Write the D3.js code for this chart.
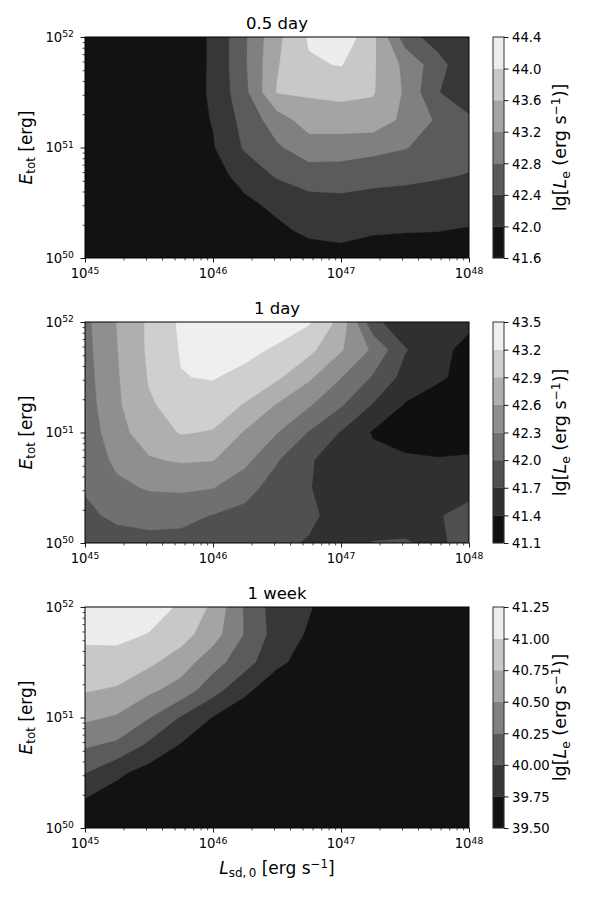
<!DOCTYPE html>
<html>
<head>
<meta charset="utf-8">
<script src="https://cdn.jsdelivr.net/npm/d3@7"></script>
<style>
body { margin: 0; background: #fff; }
text { font-family: "DejaVu Sans", sans-serif; fill: #000; }
</style>
</head>
<body>
<svg id="chart" width="600" height="900"></svg>
<script>
// grid of the model runs (log10 values), rows from top (E=1e52) to bottom (E=1e50)
var lgLsd = [45, 45.25, 45.5, 45.75, 46, 46.25, 46.5, 46.75, 47, 47.25, 47.5, 47.75, 48];
var lgEtot = [52, 51.75, 51.5, 51.25, 51, 50.75, 50.5, 50.25, 50];

var xTicks = [45, 46, 47, 48];
var yTicks = [50, 51, 52];
var titles = ["0.5 day", "1 day", "1 week"];

var levelsHalfDay = [41.6, 42.0, 42.4, 42.8, 43.2, 43.6, 44.0, 44.4];
var levelsOneDay = [41.1, 41.4, 41.7, 42.0, 42.3, 42.6, 42.9, 43.2, 43.5];
var levelsOneWeek = [39.5, 39.75, 40.0, 40.25, 40.5, 40.75, 41.0, 41.25];

// lg L_e at each grid point
var lgLeHalfDay = [
	[41.7, 41.72, 41.75, 41.8, 42.05, 42.75, 43.5, 44.05, 44.3, 43.7, 42.6, 42.2, 42.15],
	[41.7, 41.72, 41.75, 41.8, 42.05, 42.75, 43.57, 43.95, 44.02, 43.65, 43.1, 42.58, 42.05],
	[41.7, 41.72, 41.75, 41.82, 42.05, 42.7, 43.62, 43.65, 43.68, 43.63, 43.15, 42.42, 42.2],
	[41.7, 41.72, 41.75, 41.82, 42.02, 42.55, 43.0, 43.4, 43.45, 43.45, 43.1, 42.75, 42.45],
	[41.7, 41.72, 41.75, 41.8, 41.97, 42.45, 42.75, 43.0, 42.95, 42.9, 42.82, 42.65, 42.55],
	[41.7, 41.7, 41.72, 41.75, 41.85, 42.15, 42.45, 42.62, 42.65, 42.58, 42.52, 42.45, 42.38],
	[41.68, 41.68, 41.7, 41.72, 41.78, 41.93, 42.1, 42.25, 42.27, 42.2, 42.19, 42.17, 42.2],
	[41.65, 41.65, 41.66, 41.68, 41.7, 41.78, 41.92, 42.08, 42.1, 42.05, 42.02, 42.01, 41.97],
	[41.65, 41.65, 41.65, 41.66, 41.68, 41.7, 41.75, 41.81, 41.88, 41.77, 41.8, 41.82, 41.85]
];

var lgLeOneDay = [
	[42.22, 42.61, 42.95, 43.25, 43.4, 43.45, 43.4, 43.23, 42.8, 41.78, 41.5, 41.5, 41.47],
	[42.2, 42.59, 42.95, 43.22, 43.35, 43.3, 43.15, 42.98, 42.63, 42.25, 41.72, 41.5, 41.3],
	[42.18, 42.57, 42.92, 43.19, 43.22, 43.1, 42.95, 42.65, 42.31, 41.97, 41.6, 41.45, 41.3],
	[42.15, 42.55, 42.87, 43.0, 43.05, 42.88, 42.58, 42.33, 42.03, 41.68, 41.38, 41.25, 41.2],
	[42.1, 42.5, 42.75, 42.92, 42.88, 42.57, 42.31, 41.98, 41.68, 41.37, 41.2, 41.15, 41.2],
	[42.05, 42.38, 42.57, 42.63, 42.61, 42.38, 42.02, 41.72, 41.6, 41.5, 41.47, 41.43, 41.45],
	[42.02, 42.22, 42.33, 42.35, 42.31, 42.1, 41.88, 41.71, 41.6, 41.55, 41.55, 41.58, 41.62],
	[41.95, 42.05, 42.08, 42.07, 41.99, 41.92, 41.83, 41.75, 41.6, 41.57, 41.6, 41.68, 41.78],
	[41.85, 41.9, 41.93, 41.92, 41.88, 41.82, 41.75, 41.68, 41.6, 41.71, 41.72, 41.65, 41.8]
];

var lgLeOneWeek = [
	[41.2, 41.18, 41.1, 40.97, 40.7, 40.22, 39.87, 39.77, 39.6, 39.56, 39.55, 39.55, 39.55],
	[41.04, 41.05, 40.99, 40.85, 40.6, 40.23, 39.89, 39.72, 39.6, 39.56, 39.55, 39.55, 39.55],
	[40.93, 40.92, 40.8, 40.62, 40.35, 40.1, 39.8, 39.65, 39.58, 39.55, 39.55, 39.55, 39.55],
	[40.77, 40.72, 40.55, 40.4, 40.1, 39.8, 39.6, 39.57, 39.55, 39.55, 39.55, 39.55, 39.55],
	[40.55, 40.47, 40.26, 39.98, 39.74, 39.6, 39.57, 39.55, 39.55, 39.55, 39.55, 39.55, 39.55],
	[40.28, 40.2, 39.95, 39.73, 39.6, 39.56, 39.55, 39.55, 39.55, 39.55, 39.55, 39.55, 39.55],
	[40.01, 39.8, 39.65, 39.58, 39.56, 39.55, 39.55, 39.55, 39.55, 39.55, 39.55, 39.55, 39.55],
	[39.73, 39.62, 39.57, 39.55, 39.55, 39.55, 39.55, 39.55, 39.55, 39.55, 39.55, 39.55, 39.55],
	[39.6, 39.57, 39.55, 39.55, 39.55, 39.55, 39.55, 39.55, 39.55, 39.55, 39.55, 39.55, 39.55]
];

var panels = [
	{title: titles[0], levels: levelsHalfDay, grid: lgLeHalfDay, fmt: ".1f"},
	{title: titles[1], levels: levelsOneDay, grid: lgLeOneDay, fmt: ".1f"},
	{title: titles[2], levels: levelsOneWeek, grid: lgLeOneWeek, fmt: ".2f"}
];

var svg = d3.select("#chart");
var plotLeft = 85, plotRight = 469;
var panelTops = [37, 322, 607];
var panelH = 221;
var cbLeft = 493, cbW = 11;
var tickFont = 13.2, labelFont = 17;
var majorLen = 4.5, minorLen = 2.5;

var x = d3.scaleLog().domain([Math.pow(10, xTicks[0]), Math.pow(10, xTicks[xTicks.length - 1])]).range([plotLeft, plotRight]);

// writes text with mathtext style sub/superscripts
function mathText(sel, parts, size) {
	var shift = 0;
	parts.forEach(function(p) {
		var fs = p.s ? size * 0.7 : size;
		var target = p.s === "sub" ? size * 0.2 : (p.s === "sup" ? -size * 0.34 : 0);
		sel.append("tspan")
			.attr("font-size", fs)
			.attr("font-style", p.i ? "italic" : null)
			.attr("dy", target - shift)
			.text(p.t);
		shift = target;
	});
}

function isMajor(v) {
	var l = Math.log10(v);
	return Math.abs(l - Math.round(l)) < 1e-9;
}

panels.forEach(function(p, idx) {
	var top = panelTops[idx];
	var bottom = top + panelH;
	var y = d3.scaleLog().domain([Math.pow(10, yTicks[0]), Math.pow(10, yTicks[yTicks.length - 1])]).range([bottom, top]);
	var nLev = p.levels.length - 1;
	var grey = function(i) { return d3.interpolateRgb("#000", "#fff")((i + 0.5) / nLev); };

	var g = svg.append("g");
	g.append("clipPath").attr("id", "clip" + idx)
		.append("rect").attr("x", plotLeft).attr("y", top)
		.attr("width", plotRight - plotLeft).attr("height", panelH);

	// filled contours
	var nx = lgLsd.length, ny = lgEtot.length;
	var stepX = lgLsd[1] - lgLsd[0], stepY = lgEtot[1] - lgEtot[0];
	var flat = [];
	p.grid.forEach(function(row) { flat = flat.concat(row); });
	var contours = d3.contours().size([nx, ny]).thresholds(p.levels.slice(0, -1))(flat);
	var proj = d3.geoTransform({
		point: function(gx, gy) {
			var lx = lgLsd[0] + (gx - 0.5) * stepX;
			var ly = lgEtot[0] + (gy - 0.5) * stepY;
			this.stream.point(x(Math.pow(10, lx)), y(Math.pow(10, ly)));
		}
	});
	var path = d3.geoPath(proj);
	g.append("g").attr("clip-path", "url(#clip" + idx + ")")
		.selectAll("path").data(contours).enter().append("path")
		.attr("d", path)
		.attr("fill", function(d, i) { return grey(i); })
		.attr("stroke", function(d, i) { return grey(i); })
		.attr("stroke-width", 0.3);

	// x axis
	var xMinor = x.ticks().filter(function(v) { return !isMajor(v); });
	g.append("g").attr("transform", "translate(0," + bottom + ")")
		.call(d3.axisBottom(x).tickValues(xMinor).tickSize(minorLen).tickSizeOuter(0).tickFormat(""))
		.call(function(a) { a.select(".domain").remove(); a.selectAll("line").attr("stroke-width", 0.7); });
	g.append("g").attr("transform", "translate(0," + bottom + ")")
		.call(d3.axisBottom(x).tickValues(xTicks.map(function(v) { return Math.pow(10, v); })).tickSize(majorLen).tickSizeOuter(0).tickFormat(""))
		.call(function(a) { a.select(".domain").remove(); a.selectAll("line").attr("stroke-width", 0.9); });
	xTicks.forEach(function(v) {
		var t = g.append("text").attr("x", x(Math.pow(10, v))).attr("y", bottom + 20)
			.attr("text-anchor", "middle").attr("font-size", tickFont);
		mathText(t, [{t: "10"}, {t: String(v), s: "sup"}], tickFont);
	});

	// y axis
	var yMinor = y.ticks().filter(function(v) { return !isMajor(v); });
	g.append("g").attr("transform", "translate(" + plotLeft + ",0)")
		.call(d3.axisLeft(y).tickValues(yMinor).tickSize(minorLen).tickSizeOuter(0).tickFormat(""))
		.call(function(a) { a.select(".domain").remove(); a.selectAll("line").attr("stroke-width", 0.7); });
	g.append("g").attr("transform", "translate(" + plotLeft + ",0)")
		.call(d3.axisLeft(y).tickValues(yTicks.map(function(v) { return Math.pow(10, v); })).tickSize(majorLen).tickSizeOuter(0).tickFormat(""))
		.call(function(a) { a.select(".domain").remove(); a.selectAll("line").attr("stroke-width", 0.9); });
	yTicks.forEach(function(v) {
		var t = g.append("text").attr("x", plotLeft - 11).attr("y", y(Math.pow(10, v)) + 4.5)
			.attr("text-anchor", "end").attr("font-size", tickFont);
		mathText(t, [{t: "10"}, {t: String(v), s: "sup"}], tickFont);
	});

	// frame
	g.append("rect").attr("x", plotLeft).attr("y", top)
		.attr("width", plotRight - plotLeft).attr("height", panelH)
		.attr("fill", "none").attr("stroke", "#000").attr("stroke-width", 1);

	// title
	g.append("text").attr("x", (plotLeft + plotRight) / 2).attr("y", top - 8)
		.attr("text-anchor", "middle").attr("font-size", 16.5).text(p.title);

	// y label
	var yl = g.append("text").attr("text-anchor", "middle").attr("font-size", labelFont)
		.attr("transform", "translate(31.5," + (top + panelH / 2) + ") rotate(-90)");
	mathText(yl, [{t: "E", i: true}, {t: "tot", s: "sub"}, {t: " [erg]"}], labelFont);

	// colorbar
	var cy = d3.scaleLinear().domain([p.levels[0], p.levels[nLev]]).range([bottom, top]);
	var bands = d3.range(nLev);
	g.append("g").selectAll("rect").data(bands).enter().append("rect")
		.attr("x", cbLeft).attr("width", cbW)
		.attr("y", function(i) { return cy(p.levels[i + 1]); })
		.attr("height", function(i) { return cy(p.levels[i]) - cy(p.levels[i + 1]); })
		.attr("fill", function(i) { return grey(i); })
		.attr("stroke", function(i) { return grey(i); })
		.attr("stroke-width", 0.3);
	g.append("rect").attr("x", cbLeft).attr("y", top).attr("width", cbW).attr("height", panelH)
		.attr("fill", "none").attr("stroke", "#333").attr("stroke-width", 1);
	var cbAxis = g.append("g").attr("transform", "translate(" + (cbLeft + cbW) + ",0)")
		.call(d3.axisRight(cy).tickValues(p.levels).tickSize(majorLen).tickPadding(3.5).tickFormat(d3.format(p.fmt)));
	cbAxis.select(".domain").remove();
	cbAxis.attr("font-family", null).attr("font-size", null);
	cbAxis.selectAll("line").attr("stroke-width", 0.9);
	cbAxis.selectAll("text").attr("font-size", tickFont).attr("dy", "0.36em");

	var cl = g.append("text").attr("text-anchor", "middle").attr("font-size", 17.5)
		.attr("transform", "translate(566," + (top + panelH / 2) + ") rotate(-90)");
	mathText(cl, [{t: "lg["}, {t: "L", i: true}, {t: "e", s: "sub"}, {t: " (erg s"}, {t: "\u22121", s: "sup"}, {t: ")]"}], 17.5);
});

// x label at the bottom
var xl = svg.append("text").attr("x", (plotLeft + plotRight) / 2).attr("y", 874)
	.attr("text-anchor", "middle").attr("font-size", labelFont);
mathText(xl, [{t: "L", i: true}, {t: "sd,\u20090", s: "sub"}, {t: " [erg s"}, {t: "\u22121", s: "sup"}, {t: "]"}], labelFont);
</script>
</body>
</html>
